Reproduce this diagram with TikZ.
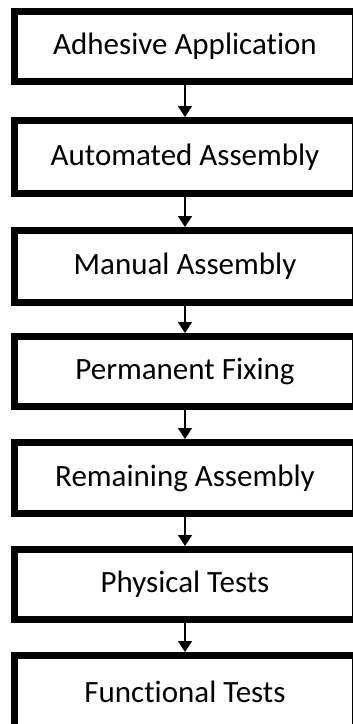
\documentclass[tikz,border=0pt]{standalone}
\usepackage{fontspec}
\setmainfont[RawFeature=-liga]{Carlito}
\usetikzlibrary{arrows.meta}
\begin{document}
\begin{tikzpicture}[x=1pt,y=-1pt,
  stepbox/.style={draw=black, line width=7pt, fill=white, minimum width=341pt, inner sep=0pt,
    font=\fontsize{31}{36}\selectfont, text=black},
  flow/.style={line width=1.6pt, -{Triangle[width=14pt,length=11pt]}}]
\path[use as bounding box, fill=white] (0,0) rectangle (353,724);
\begin{scope}
\clip (0,0) rectangle (353,724);
\node[stepbox, minimum height=70pt] (b1) at (185,46.5) {Adhesive Application};
\node[stepbox, minimum height=73pt] (b2) at (185,157) {Automated Assembly};
\node[stepbox, minimum height=72pt] (b3) at (185,266.5) {Manual Assembly};
\node[stepbox, minimum height=70pt] (b4) at (185,371.5) {Permanent Fixing};
\node[stepbox, minimum height=71pt] (b5) at (185,478) {Remaining Assembly};
\node[stepbox, minimum height=70pt] (b6) at (185,584.5) {Physical Tests};
\node[stepbox, minimum height=76pt] (b7) at (185,693.5) {\raisebox{3pt}{Functional Tests}};
\draw[flow] (b1) -- (b2);
\draw[flow] (b2) -- (b3);
\draw[flow] (b3) -- (b4);
\draw[flow] (b4) -- (b5);
\draw[flow] (b5) -- (b6);
\draw[flow] (b6) -- (b7);
\end{scope}
\end{tikzpicture}
\end{document}
